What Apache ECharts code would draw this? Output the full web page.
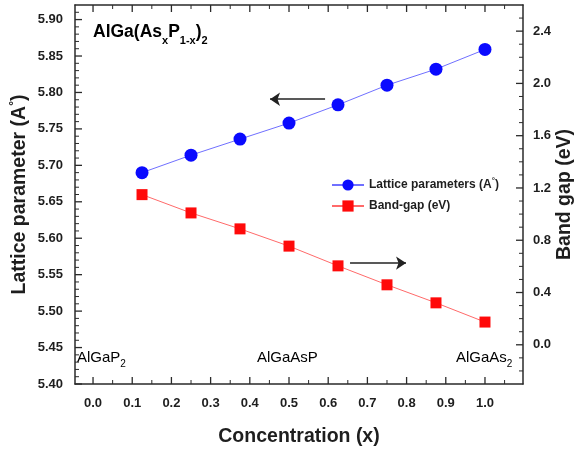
<!DOCTYPE html>
<html>
<head>
<meta charset="utf-8">
<script src="https://cdn.jsdelivr.net/npm/echarts@6/dist/echarts.min.js"></script>
<style>
html,body{margin:0;padding:0;background:#fff;}
#chart{width:577px;height:450px;}
</style>
</head>
<body>
<div id="chart"></div>
<script>
// ---- data ----
const concentration = [0.125, 0.25, 0.375, 0.5, 0.625, 0.75, 0.875, 1.0];
const latticeParam = [5.690, 5.714, 5.736, 5.758, 5.783, 5.810, 5.832, 5.859];
const bandGap = [1.149, 1.009, 0.887, 0.755, 0.604, 0.459, 0.321, 0.174];

// ---- tick labels ----
const xTickLabels = [0.0, 0.1, 0.2, 0.3, 0.4, 0.5, 0.6, 0.7, 0.8, 0.9, 1.0];
const leftTickLabels = [5.40, 5.45, 5.50, 5.55, 5.60, 5.65, 5.70, 5.75, 5.80, 5.85, 5.90];
const rightTickLabels = [0.0, 0.4, 0.8, 1.2, 1.6, 2.0, 2.4];

// axis extents
const xRange = [-0.046, 1.097];
const leftRange = [5.40, 5.92];
const rightRange = [-0.3, 2.6];

// minor tick values
const xMinor = [];
for (let i = 0; i <= 10; i++) xMinor.push(+(i * 0.1 + 0.05).toFixed(2));
const leftMinor = [];
for (let i = 1; i <= 51; i++) { if (i % 5 !== 0) leftMinor.push(+(5.40 + i * 0.01).toFixed(2)); }
const rightMinor = [];
for (let i = -2; i <= 25; i++) { if (i % 4 !== 0) rightMinor.push(+(i * 0.1).toFixed(1)); }

const FONT = 'Liberation Sans, Arial, sans-serif';
const INK = '#1e1e1e';
const AX = '#2a2a2a';
const MAJ = 7, MIN = 4;

function axisBase(extra) {
  return Object.assign({
    type: 'value',
    nameMoveOverlap: false,
    axisLine: { show: true, onZero: false, lineStyle: { color: AX, width: 1.5 } },
    splitLine: { show: false },
    axisTick: { show: false },
    axisLabel: { show: false }
  }, extra);
}

const labelStyle = { fontFamily: FONT, fontWeight: 'bold', fontSize: 13, color: INK };
const nameStyle = { fontFamily: FONT, fontWeight: 'bold', fontSize: 19.5, color: INK };

const xMain = axisBase({
  min: xRange[0], max: xRange[1], position: 'bottom',
  name: 'Concentration (x)', nameLocation: 'middle', nameGap: 43, nameTextStyle: nameStyle
});
xMain.axisLabel = Object.assign({ show: true, margin: 13, customValues: xTickLabels,
  formatter: v => v.toFixed(1) }, labelStyle);

const xTop = axisBase({ min: xRange[0], max: xRange[1], position: 'top' });

const yLeft = axisBase({
  min: leftRange[0], max: leftRange[1], position: 'left',
  name: 'Lattice parameter (A{sup|°})', nameLocation: 'middle', nameGap: 44,
  nameTextStyle: Object.assign({}, nameStyle, { rich: { sup: { fontFamily: FONT, fontWeight: 'bold', fontSize: 12, color: INK, verticalAlign: 'top', lineHeight: 22 } } })
});
yLeft.axisLabel = Object.assign({ show: true, margin: 12, customValues: leftTickLabels,
  formatter: v => v.toFixed(2) }, labelStyle);

const yRight = axisBase({
  min: rightRange[0], max: rightRange[1], position: 'right',
  name: 'Band gap (eV)', nameLocation: 'middle', nameGap: 32, nameTextStyle: nameStyle
});
yRight.axisLabel = Object.assign({ show: true, margin: 10, customValues: rightTickLabels,
  formatter: v => v.toFixed(1) }, labelStyle);

// tick marks drawn through the axes' own scales
function tickSeries(side, yIdx, major, minor) {
  const items = major.map(v => [v, MAJ]).concat(minor.map(v => [v, MIN]));
  return {
    type: 'custom', xAxisIndex: 0, yAxisIndex: yIdx, silent: true, z: 6, clip: false,
    tooltip: { show: false },
    data: items,
    renderItem: function (params, api) {
      const v = api.value(0), L = api.value(1);
      let p, q;
      if (side === 'bottom') { p = api.coord([v, leftRange[0]]); q = [p[0], p[1] - L]; }
      else if (side === 'top') { p = api.coord([v, leftRange[1]]); q = [p[0], p[1] + L]; }
      else if (side === 'left') { p = api.coord([xRange[0], v]); q = [p[0] + L, p[1]]; }
      else { p = api.coord([xRange[1], v]); q = [p[0] - L, p[1]]; }
      return { type: 'line', shape: { x1: p[0], y1: p[1], x2: q[0], y2: q[1] },
        style: { stroke: AX, lineWidth: L === MAJ ? 1.3 : 1 } };
    }
  };
}

const option = {
  animation: false,
  backgroundColor: '#ffffff',
  grid: { left: 75, top: 5, width: 448, height: 379, containLabel: false, outerBoundsMode: 'none' },
  xAxis: [xMain, xTop],
  yAxis: [yLeft, yRight],
  legend: {
    orient: 'vertical', left: 331, top: 177, padding: 0, itemWidth: 32, itemHeight: 14, itemGap: 9,
    textStyle: { fontFamily: FONT, fontWeight: 'bold', fontSize: 12, color: INK,
      rich: { a: { fontFamily: FONT, fontWeight: 'bold', fontSize: 12, color: INK },
              s: { fontFamily: FONT, fontWeight: 'bold', fontSize: 8, color: INK, verticalAlign: 'top', lineHeight: 16 } } },
    formatter: function (n) {
      if (n === 'Lattice parameters (A°)') return '{a|Lattice parameters (A}{s|°}{a|)}';
      return '{a|' + n + '}';
    },
    data: ['Lattice parameters (A°)', 'Band-gap (eV)']
  },
  series: [
    {
      name: 'Lattice parameters (A°)', type: 'line', xAxisIndex: 0, yAxisIndex: 0,
      data: concentration.map((c, i) => [c, latticeParam[i]]),
      symbol: 'circle', symbolSize: 13,
      itemStyle: { color: '#0a0aff' },
      lineStyle: { color: '#7070ff', width: 1 },
      markLine: {
        silent: true, symbol: ['none', 'arrow'], symbolSize: 10, label: { show: false },
        lineStyle: { color: '#222', width: 1.5, type: 'solid' },
        data: [[{ coord: [0.592, 5.7907] }, { coord: [0.4516, 5.7907] }]]
      }
    },
    {
      name: 'Band-gap (eV)', type: 'line', xAxisIndex: 0, yAxisIndex: 1,
      data: concentration.map((c, i) => [c, bandGap[i]]),
      symbol: 'rect', symbolSize: 11,
      itemStyle: { color: '#ff0a0a' },
      lineStyle: { color: '#ff6a6a', width: 1 },
      markLine: {
        silent: true, symbol: ['none', 'arrow'], symbolSize: 10, label: { show: false },
        lineStyle: { color: '#222', width: 1.5, type: 'solid' },
        data: [[{ coord: [0.6557, 0.625] }, { coord: [0.7986, 0.625] }]]
      }
    },
    tickSeries('bottom', 0, xTickLabels, xMinor),
    tickSeries('top', 0, xTickLabels, xMinor),
    tickSeries('left', 0, leftTickLabels, leftMinor),
    tickSeries('right', 1, rightTickLabels, rightMinor)
  ],
  graphic: [
    { type: 'text', left: 93, top: 23, style: {
      text: '{m|AlGa(As}{s|x}{m|P}{s|1-x}{m|)}{s|2}',
      rich: {
        m: { fontFamily: FONT, fontWeight: 'bold', fontSize: 17.5, color: INK, lineHeight: 28 },
        s: { fontFamily: FONT, fontWeight: 'bold', fontSize: 11, color: INK, lineHeight: 11, verticalAlign: 'bottom' }
      } } },
    { type: 'text', left: 77, top: 350, style: {
      text: '{m|AlGaP}{s|2}',
      rich: {
        m: { fontFamily: FONT, fontSize: 15, color: INK, lineHeight: 24 },
        s: { fontFamily: FONT, fontSize: 10, color: INK, lineHeight: 10, verticalAlign: 'bottom' }
      } } },
    { type: 'text', left: 257, top: 350, style: {
      text: '{m|AlGaAsP}',
      rich: { m: { fontFamily: FONT, fontSize: 15, color: INK, lineHeight: 24 } } } },
    { type: 'text', left: 456, top: 350, style: {
      text: '{m|AlGaAs}{s|2}',
      rich: {
        m: { fontFamily: FONT, fontSize: 15, color: INK, lineHeight: 24 },
        s: { fontFamily: FONT, fontSize: 10, color: INK, lineHeight: 10, verticalAlign: 'bottom' }
      } } }
  ]
};

const chart = echarts.init(document.getElementById('chart'), null, { renderer: 'canvas' });
chart.setOption(option);
</script>
</body>
</html>
